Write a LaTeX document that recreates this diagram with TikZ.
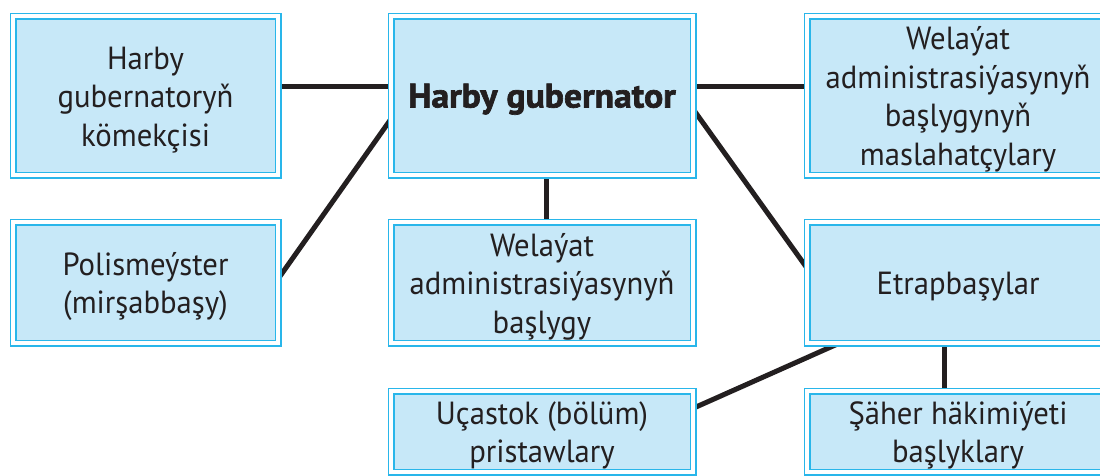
\documentclass[tikz,border=0pt]{standalone}
\usepackage{fontspec}
\setmainfont{PT Sans}[FakeStretch=0.96]
\newfontfamily\heavy{PT Sans Bold}[FakeStretch=1.05, FakeBold=2]
\usetikzlibrary{backgrounds}
\definecolor{boxfill}{HTML}{C7E8F8}
\definecolor{boxline}{HTML}{29B6EA}
\definecolor{ink}{HTML}{231F20}
\newcommand\topst{\rule{0pt}{32pt}}
\newcommand\botst{\rule[-8pt]{0pt}{8pt}}
\begin{document}
\begin{tikzpicture}[x=1pt,y=-1pt,
  box/.style={draw=boxline, line width=1.5pt, double=white, double distance=4pt,
    fill=boxfill, inner sep=0pt, align=center, text=ink,
    font=\fontsize{32}{38.5}\selectfont},
  wide/.style={box, minimum width=302pt},
  narrow/.style={box, minimum width=265pt},
  link/.style={draw=ink, line width=5pt}]
\useasboundingbox (0,0) rectangle (1100,475);
\clip (0,0) rectangle (1100,475);

\node[narrow, minimum height=159pt] (k) at (145.5,95.5) {\topst Harby\\gubernatoryň\\kömekçisi\botst};
\node[wide, minimum height=159pt, font=\heavy\fontsize{34}{40}\selectfont] (gov) at (542,95.5) {\topst Harby gubernator\botst};
\node[wide, minimum height=159pt] (adv) at (958,95.5) {\topst Welaýat\\administrasiýasynyň\\başlygynyň\\maslahatçylary\botst};
\node[narrow, minimum height=121pt] (pol) at (145.5,282.5) {\topst Polismeýster\\(mirşabbaşy)\botst};
\node[wide, minimum height=121pt] (head) at (542,282.5) {\topst Welaýat\\administrasiýasynyň\\başlygy\botst};
\node[wide, minimum height=121pt] (etr) at (958,282.5) {\topst Etrapbaşylar\botst};
\node[wide, minimum height=81pt] (uc) at (542,431.5) {\topst Uçastok (bölüm)\\pristawlary\botst};
\node[wide, minimum height=81pt] (sh) at (958,431.5) {\topst Şäher häkimiýeti\\başlyklary\botst};

\begin{scope}[on background layer]
\draw[link] ([yshift=9.5pt]k.east) -- ([yshift=9.5pt]gov.west);
\draw[link] ([yshift=4.5pt]pol.east) -- ([yshift=-24.5pt]gov.west);
\draw[link] ([yshift=9.5pt]gov.east) -- ([yshift=9.5pt]adv.west);
\draw[link] ([yshift=-14.5pt]gov.east) -- ([yshift=15.5pt]etr.west);
\draw[link] ([xshift=4pt]gov.south) -- ([xshift=4pt]head.north);
\draw[link] ([xshift=-120pt]etr.south) -- ([yshift=23.5pt]uc.east);
\draw[link] ([xshift=-14pt]etr.south) -- ([xshift=-14pt]sh.north);
\end{scope}
\end{tikzpicture}
\end{document}
